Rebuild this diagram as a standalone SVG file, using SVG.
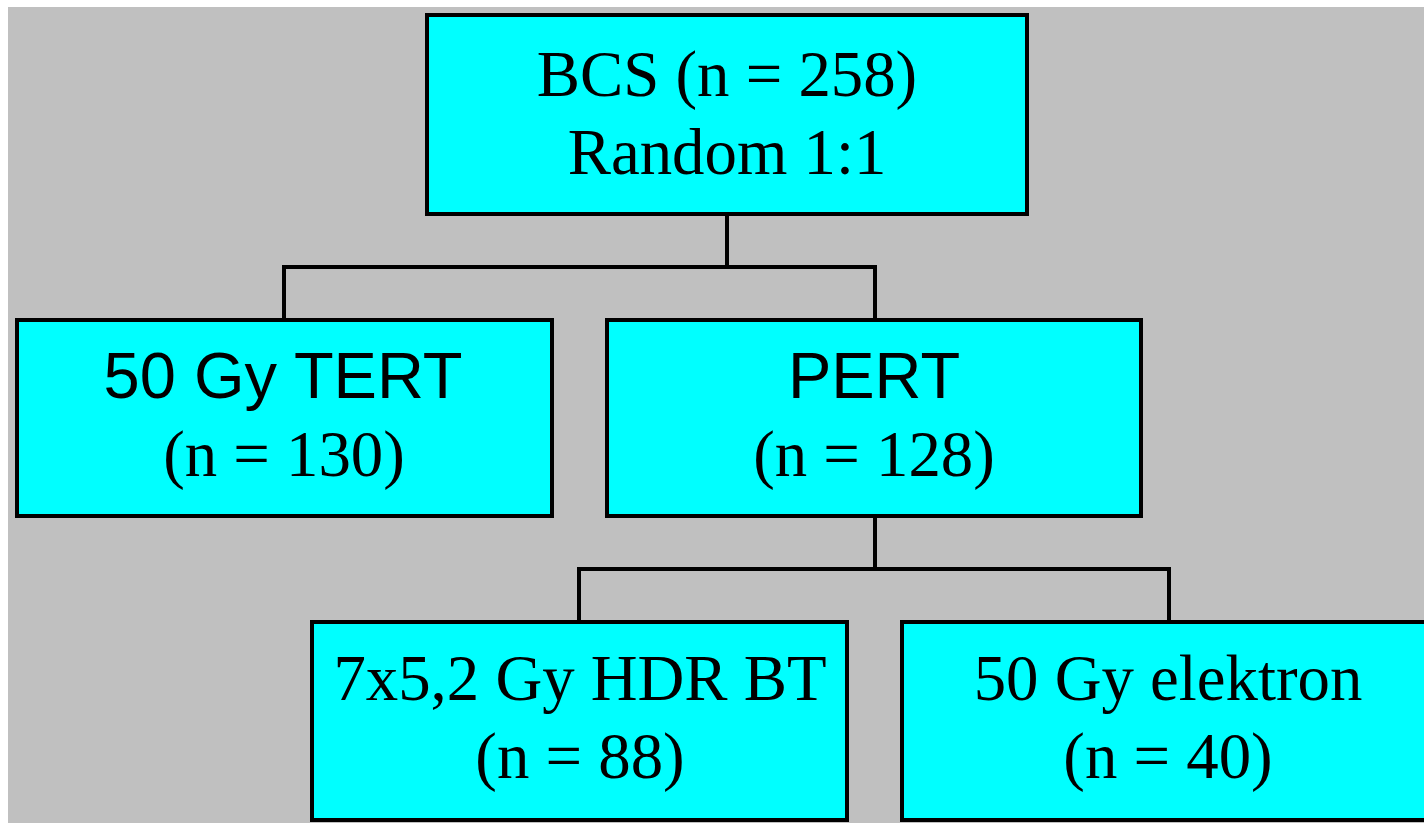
<svg xmlns="http://www.w3.org/2000/svg" width="1424" height="823" viewBox="0 0 1424 823">
<style>
.box{fill:#00FFFF;stroke:#000;stroke-width:4;stroke-linejoin:miter}
.ser{font-family:"Liberation Serif","Times New Roman",serif;font-size:64.8px;fill:#000;text-anchor:middle}
.san{font-family:"Liberation Sans",Arial,sans-serif;font-size:65px;fill:#000;text-anchor:middle}
.conn{fill:none;stroke:#000;stroke-width:4;stroke-linejoin:miter}
</style>
<rect x="0" y="0" width="1424" height="823" fill="#FFFFFF"/>
<rect x="8" y="7" width="1416" height="816" fill="#C0C0C0"/>
<g id="connectors">
<path class="conn" d="M727 214 V267 M284 320 V267 H875 V320"/>
<path class="conn" d="M875 516 V569 M579 622 V569 H1169 V622"/>
</g>
<g id="bcs">
<rect class="box" x="427" y="15" width="600" height="199"/>
<text class="ser" x="727" y="96">BCS (n = 258)</text>
<text class="ser" x="727" y="174">Random 1:1</text>
</g>
<g id="tert">
<rect class="box" x="17" y="320" width="535" height="196"/>
<text class="san" x="283" y="398">50 Gy TERT</text>
<text class="ser" x="284" y="476">(n = 130)</text>
</g>
<g id="pert">
<rect class="box" x="607" y="320" width="534" height="196"/>
<text class="san" x="874" y="398">PERT</text>
<text class="ser" x="874" y="476">(n = 128)</text>
</g>
<g id="hdr">
<rect class="box" x="312" y="622" width="535" height="198"/>
<text class="ser" x="580" y="700">7x5,2 Gy HDR BT</text>
<text class="ser" x="580" y="778">(n = 88)</text>
</g>
<g id="elektron">
<rect class="box" x="902" y="622" width="535" height="198"/>
<text class="ser" x="1168" y="700">50 Gy elektron</text>
<text class="ser" x="1168" y="778">(n = 40)</text>
</g>
</svg>
